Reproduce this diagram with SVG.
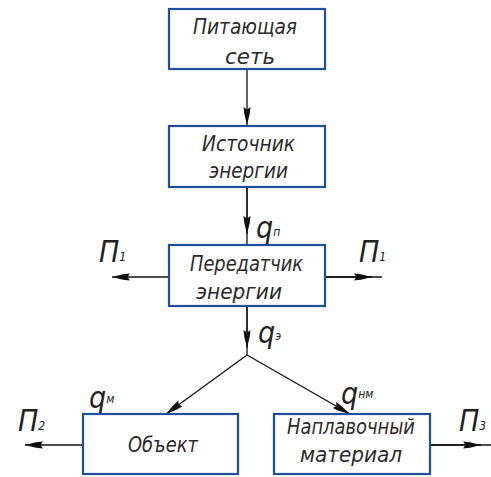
<svg xmlns="http://www.w3.org/2000/svg" width="491" height="477" viewBox="0 0 491 477">
  <defs>
    <marker id="arrow" viewBox="0 0 18 10" refX="18" refY="5" markerWidth="18" markerHeight="10" markerUnits="userSpaceOnUse" orient="auto">
      <path d="M0,1.5 L7,2.3 L18,5 L7,7.7 L0,8.5 L2.5,5 Z" fill="#111"/>
    </marker>
    <style>
      .box { fill: #fff; stroke: #1f4e9c; stroke-width: 2.2; }
      .lbl { font-family: "DejaVu Sans Condensed", "Liberation Sans", sans-serif; font-style: italic; font-size: 21px; fill: #2a2a2a; }
      .sym { font-family: "DejaVu Sans Condensed", "Liberation Sans", sans-serif; font-style: italic; font-size: 30px; fill: #222; }
      .sub { font-size: 12px; }
      .wire { stroke: #111; stroke-width: 1.3; fill: none; }
    </style>
  </defs>
  <rect width="491" height="477" fill="#fff"/>

  <!-- connectors -->
  <g id="connectors">
    <line class="wire" x1="247" y1="69" x2="247" y2="125" marker-end="url(#arrow)"/>
    <line class="wire" x1="247" y1="187" x2="247" y2="245"/>
    <line class="wire" x1="247" y1="187" x2="247" y2="234" marker-end="url(#arrow)"/>
    <line class="wire" x1="169" y1="277" x2="112" y2="277" marker-end="url(#arrow)"/>
    <line class="wire" x1="325" y1="277" x2="382" y2="277"/>
    <line class="wire" x1="325" y1="277" x2="372" y2="277" marker-end="url(#arrow)"/>
    <line class="wire" x1="247" y1="306" x2="247" y2="355"/>
    <line class="wire" x1="247" y1="306" x2="247" y2="348" marker-end="url(#arrow)"/>
    <line class="wire" x1="247" y1="355" x2="166" y2="414" marker-end="url(#arrow)"/>
    <line class="wire" x1="247" y1="355" x2="350" y2="414" marker-end="url(#arrow)"/>
    <line class="wire" x1="83" y1="445" x2="25" y2="445" marker-end="url(#arrow)"/>
    <line class="wire" x1="430" y1="445" x2="491" y2="445"/>
    <line class="wire" x1="430" y1="445" x2="481" y2="445" marker-end="url(#arrow)"/>
  </g>

  <!-- flow labels -->
  <g id="labels">
    <text class="sym" x="256" y="238">q<tspan class="sub" dy="-2">п</tspan></text>
    <text class="sym" x="258" y="343">q<tspan class="sub" dy="-3">э</tspan></text>
    <text class="sym" x="99" y="262">П<tspan class="sub" dy="-1">1</tspan></text>
    <text class="sym" x="359" y="262">П<tspan class="sub" dy="-1">1</tspan></text>
    <text class="sym" x="89" y="408">q<tspan class="sub" dy="-5">м</tspan></text>
    <text class="sym" x="341" y="404">q<tspan class="sub" dy="-6">нм</tspan></text>
    <text class="sym" x="18" y="431">П<tspan class="sub" dy="-1">2</tspan></text>
    <text class="sym" x="459" y="431">П<tspan class="sub" dy="-1">3</tspan></text>
  </g>

  <g id="supply">
    <rect class="box" x="169" y="9" width="156" height="60"/>
    <text class="lbl" x="193" y="34" textLength="104" lengthAdjust="spacingAndGlyphs">Питающая</text>
    <text class="lbl" x="225" y="64" textLength="50" lengthAdjust="spacingAndGlyphs">сеть</text>
  </g>

  <g id="source">
    <rect class="box" x="169" y="126" width="156" height="61"/>
    <text class="lbl" x="202" y="151" textLength="93" lengthAdjust="spacingAndGlyphs">Источник</text>
    <text class="lbl" x="209" y="178" textLength="79" lengthAdjust="spacingAndGlyphs">энергии</text>
  </g>

  <g id="transmitter">
    <rect class="box" x="169" y="245" width="156" height="61"/>
    <text class="lbl" x="190" y="271" textLength="113" lengthAdjust="spacingAndGlyphs">Передатчик</text>
    <text class="lbl" x="196" y="299" textLength="86" lengthAdjust="spacingAndGlyphs">энергии</text>
  </g>

  <g id="object">
    <rect class="box" x="83" y="414" width="155" height="60"/>
    <text class="lbl" x="128" y="452" textLength="70" lengthAdjust="spacingAndGlyphs">Объект</text>
  </g>

  <g id="filler">
    <rect class="box" x="274" y="414" width="156" height="60"/>
    <text class="lbl" x="287" y="434" textLength="128" lengthAdjust="spacingAndGlyphs">Наплавочный</text>
    <text class="lbl" x="300" y="462" textLength="102" lengthAdjust="spacingAndGlyphs">материал</text>
  </g>
</svg>
